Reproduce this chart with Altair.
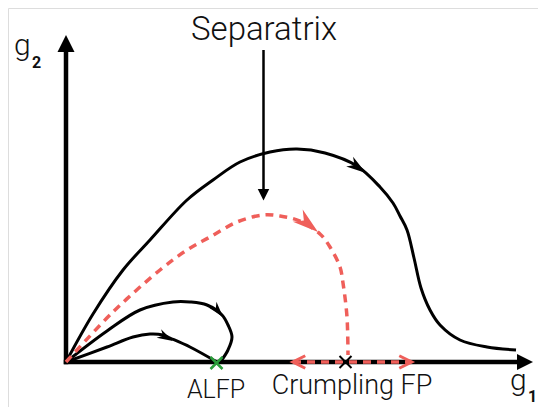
import altair as alt
import pandas as pd

# ---- data (g1, g2 in arbitrary flow-diagram units) ----
big_g1 = [0, 0.27, 0.57, 0.84, 1.21, 1.47, 1.74, 2.04, 2.31, 2.59, 2.91, 3.14, 3.27, 3.34, 3.41, 3.48, 3.55, 3.64, 3.74, 3.94, 4.21, 4.50]
big_g2 = [0, 0.48, 0.92, 1.22, 1.62, 1.82, 2.00, 2.10, 2.13, 2.09, 1.96, 1.75, 1.59, 1.46, 1.32, 1.04, 0.74, 0.52, 0.37, 0.22, 0.15, 0.12]

sep_g1 = [0, 0.47, 0.94, 1.21, 1.44, 1.71, 1.97, 2.14, 2.34, 2.54, 2.64, 2.74, 2.77, 2.81, 2.82]
sep_g2 = [0, 0.50, 0.92, 1.12, 1.25, 1.40, 1.47, 1.46, 1.41, 1.28, 1.15, 0.95, 0.79, 0.45, 0.07]

outer_g1 = [0, 0.41, 0.74, 1.07, 1.24, 1.41, 1.56, 1.62, 1.66, 1.62, 1.55]
outer_g2 = [0, 0.31, 0.52, 0.60, 0.60, 0.57, 0.47, 0.37, 0.25, 0.12, 0.01]

inner_g1 = [0, 0.41, 0.67, 0.84, 0.97, 1.04, 1.24, 1.51]
inner_g2 = [0, 0.15, 0.25, 0.28, 0.27, 0.24, 0.15, 0.00]

# arrowheads on flow lines: position, direction, size
head_g1 = [2.918, 0.999, 1.519]
head_g2 = [1.947, 0.248, 0.511]
head_ang = [35, 28, 50]
head_sz = [400, 256, 256]

red_head_g1 = [2.419]
red_head_g2 = [1.382]
red_head_ang = [39]
red_head_sz = [676]

# fixed points
alfp = (1.505, -0.01)
crump = (2.795, 0.0)

# axes
axis_len_x = 4.51
axis_len_y = 3.10

BLACK = "#000000"
RED = "#ef5f5a"
GREEN = "#2a9d3a"

xs = alt.Scale(domain=[-0.58, 4.72], nice=False, zero=False)
ys = alt.Scale(domain=[-0.45, 3.54], nice=False, zero=False)


def xy(ch):
    return ch.encode(
        x=alt.X("g1:Q", scale=xs, axis=None),
        y=alt.Y("g2:Q", scale=ys, axis=None),
    )


def curve(a, b):
    return pd.DataFrame({"g1": a, "g2": b, "i": list(range(len(a)))})


def line_layer(a, b, color, width, dash=None):
    kw = dict(interpolate="catmull-rom", color=color, strokeWidth=width, strokeCap="butt")
    if dash:
        kw["strokeDash"] = dash
    return xy(alt.Chart(curve(a, b)).mark_line(**kw)).encode(order=alt.Order("i:Q"))


STEALTH = "M1,0L-1,-0.6L-0.4,0L-1,0.6Z"
TRI = "M0,-1L1,1L-1,1Z"
CROSS = "M-1,-1L1,1M1,-1L-1,1"
CHEV = "M-1,-1L1,0L-1,1"


def points(g1, g2, ang, sz, shape, color, filled, sw=0):
    df = pd.DataFrame({"g1": g1, "g2": g2, "ang": ang, "sz": sz})
    if filled:
        m = alt.Chart(df).mark_point(shape=shape, filled=True, fill=color, opacity=1, strokeWidth=0)
    else:
        m = alt.Chart(df).mark_point(shape=shape, filled=False, stroke=color, opacity=1, strokeWidth=sw)
    return xy(m).encode(angle=alt.Angle("ang:Q", scale=None), size=alt.Size("sz:Q", scale=None))


def rule(g1, g2, g1b, g2b, color, width, dash=None, cap="butt"):
    df = pd.DataFrame({"g1": [g1], "g2": [g2], "g1b": [g1b], "g2b": [g2b]})
    kw = dict(color=color, strokeWidth=width, strokeCap=cap)
    if dash:
        kw["strokeDash"] = dash
    return xy(alt.Chart(df).mark_rule(**kw)).encode(x2="g1b:Q", y2="g2b:Q")


layers = []
# axes
layers.append(rule(0, 0, axis_len_x, 0, BLACK, 4.5, cap="square"))
layers.append(rule(0, 0, 0, axis_len_y, BLACK, 4.5, cap="square"))
layers.append(points([0], [3.185], [0], [289], TRI, BLACK, True))
layers.append(points([4.59], [0], [90], [256], TRI, BLACK, True))

# flow lines
layers.append(line_layer(big_g1, big_g2, BLACK, 3))
layers.append(line_layer(outer_g1, outer_g2, BLACK, 3))
layers.append(line_layer(inner_g1, inner_g2, BLACK, 3))
layers.append(line_layer(sep_g1, sep_g2, RED, 3.5, dash=[8, 6]))
layers.append(points(head_g1, head_g2, head_ang, head_sz, STEALTH, BLACK, True))
layers.append(points(red_head_g1, red_head_g2, red_head_ang, red_head_sz, STEALTH, RED, True))

# red double arrow on g1 axis
layers.append(rule(2.27, 0, 3.45, 0, RED, 3.5, dash=[8, 6]))
layers.append(points([2.33, 3.395], [0, 0], [180, 0], [156, 156], CHEV, RED, False, sw=3))

# fixed points
layers.append(points([crump[0]], [crump[1]], [0], [144], CROSS, BLACK, False, sw=2))
layers.append(points([alfp[0]], [alfp[1]], [0], [144], CROSS, GREEN, False, sw=2.5))

# separatrix pointer
layers.append(rule(1.975, 3.12, 1.975, 1.72, BLACK, 2.5))
layers.append(points([1.975], [1.6725], [180], [132], TRI, BLACK, True))

# texts
center_txt = pd.DataFrame({
    "t": ["Separatrix", "ALFP", "Crumpling FP"],
    "g1": [1.98, 1.50, 2.86],
    "g2": [3.22, -0.36, -0.32],
    "fs": [33, 25, 27],
})
layers.append(xy(alt.Chart(center_txt).mark_text(align="center", baseline="alphabetic",
                                                font="Roboto", fontWeight=300, color="#111111"))
              .encode(text="t:N", size=alt.Size("fs:Q", scale=None)))

g_txt = pd.DataFrame({"t": ["g", "g"], "g1": [-0.52, 4.44], "g2": [3.075, -0.28]})
layers.append(xy(alt.Chart(g_txt).mark_text(align="left", baseline="alphabetic", fontSize=30,
                                            font="Roboto", fontWeight=300, color="#111111"))
              .encode(text="t:N"))

sub_txt = pd.DataFrame({"t": ["2", "1"], "g1": [-0.34, 4.62], "g2": [2.94, -0.40]})
layers.append(xy(alt.Chart(sub_txt).mark_text(align="left", baseline="alphabetic", fontSize=16,
                                              font="Roboto", fontWeight="bold", color="#111111"))
              .encode(text="t:N"))

chart = alt.layer(*layers).properties(
    width=530, height=399, padding=0,
    autosize=alt.AutoSizeParams(type="none"),
).configure_view(stroke="transparent", strokeWidth=0).configure(background="white")

chart.save("out.html", embed_options={"renderer": "svg", "actions": False})
